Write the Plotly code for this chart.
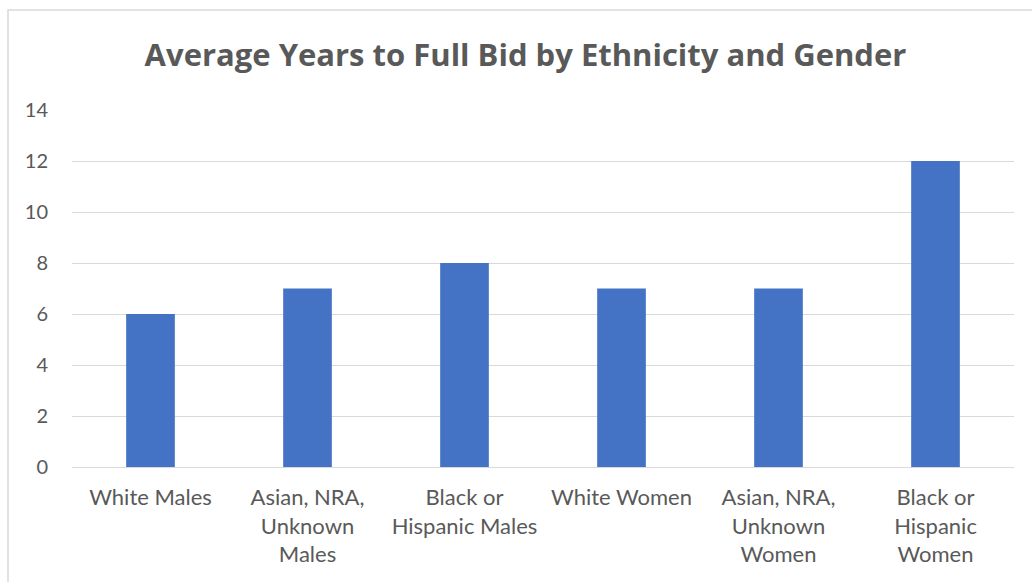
import plotly.graph_objects as go

categories = [
    "White Males",
    "Asian, NRA,<br>Unknown<br>Males",
    "Black or<br>Hispanic Males",
    "White Women",
    "Asian, NRA,<br>Unknown<br>Women",
    "Black or<br>Hispanic<br>Women",
]
values = [6, 7, 8, 7, 7, 12]
y_ticks = [0, 2, 4, 6, 8, 10, 12, 14]

W, H = 1032, 582
L, R, T, B = 72, 18, 110, 115
pw, ph = W - L - R, H - T - B

fig = go.Figure(
    go.Bar(x=categories, y=values, marker_color="#4472C4", marker_line_width=0)
)

fig.update_layout(
    width=W,
    height=H,
    margin=dict(l=L, r=R, t=T, b=B),
    paper_bgcolor="white",
    plot_bgcolor="white",
    bargap=0.69,
    font=dict(family="Lato", color="#595959", size=20),
    title=dict(
        text="<b>Average Years to Full Bid by Ethnicity and Gender</b>",
        x=(146 + 905) / 2 / W,
        xanchor="center",
        y=1 - 55 / H,
        yanchor="middle",
        font=dict(family="Open Sans", size=31, color="#595959"),
    ),
    showlegend=False,
)

fig.update_yaxes(
    range=[0, 14],
    tickvals=y_ticks,
    showgrid=True,
    gridcolor="#d9d9d9",
    gridwidth=1.3,
    zeroline=True,
    zerolinecolor="#d9d9d9",
    zerolinewidth=1.3,
    showline=False,
    ticks="",
    ticklabelstandoff=23,
    tickfont=dict(size=20, color="#595959"),
)
fig.update_xaxes(
    showgrid=False,
    showline=False,
    ticks="",
    ticklabelstandoff=15,
    tickfont=dict(size=22, color="#595959"),
)

# outer chart border (Excel chart area frame)
fig.add_shape(
    type="rect",
    xref="paper",
    yref="paper",
    x0=(8 - L) / pw,
    x1=(W + 20 - L) / pw,
    y0=-(H + 20 - T - ph) / ph,
    y1=(H - B - 10) / ph,
    line=dict(color="#d9d9d9", width=1.5),
    fillcolor="rgba(0,0,0,0)",
    layer="below",
)

fig.write_html("out.html")
